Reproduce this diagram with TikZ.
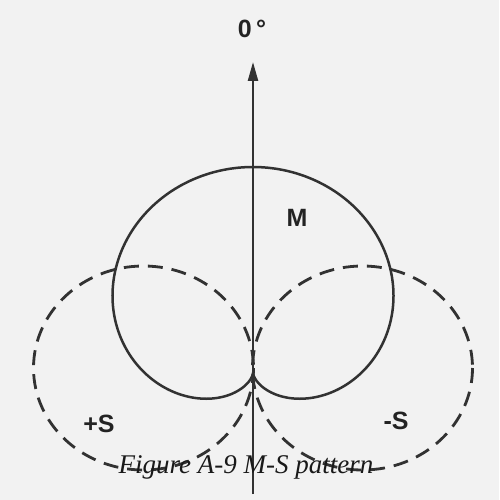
\documentclass[tikz,border=0pt]{standalone}
\usepackage{fontspec}
\setmainfont{Liberation Serif}
\newfontfamily\labfont{Liberation Sans}
\usetikzlibrary{arrows.meta}
\definecolor{bg}{RGB}{242,242,242}
\definecolor{ink}{RGB}{50,50,50}
\definecolor{labink}{RGB}{35,35,35}
\tikzset{
  lab/.style={font=\labfont\bfseries\fontsize{25}{25}\selectfont, text=labink, inner sep=0pt},
  capt/.style={font=\itshape\fontsize{27}{27}\selectfont, text=black!90, inner sep=0pt},
  axisline/.style={draw=ink, line width=2.4pt},
  pattern/.style={draw=ink, line width=2.5pt},
  lobe/.style={draw=ink, line width=2.8pt, dash pattern=on 15pt off 9pt}
}
\begin{document}
\begin{tikzpicture}[x=1pt,y=-1pt]
\fill[bg] (0,0) rectangle (499,500);
\useasboundingbox (0,0) rectangle (499,500);
% figure-8 side lobes
\draw[lobe] (143.5,368) ellipse [x radius=110, y radius=102];
\draw[lobe] (362.5,368) ellipse [x radius=110, y radius=102];
% cardioid main pattern
\draw[pattern] plot[smooth, domain=0:360, samples=181, variable=\t]
  ({253 + 1.04*104*(1+cos(\t))*sin(\t)}, {373 - 103*(1+cos(\t))*cos(\t)});
% axis
\coordinate (bot) at (253,494);
\coordinate (tip) at (253,62);
\draw[axisline, -{Triangle[width=10pt,length=19pt]}] (bot) -- (tip);
% labels
\node[lab] (zero) at (252,29) {0\,°};
\node[lab] (M) at (297,218) {M};
\node[lab] (PS) at (99,424) {+S};
\node[lab] (MS) at (396,421) {-S};
\node[capt, anchor=base] (cap) at (246,473) {Figure A-9 M-S pattern};
\end{tikzpicture}
\end{document}
